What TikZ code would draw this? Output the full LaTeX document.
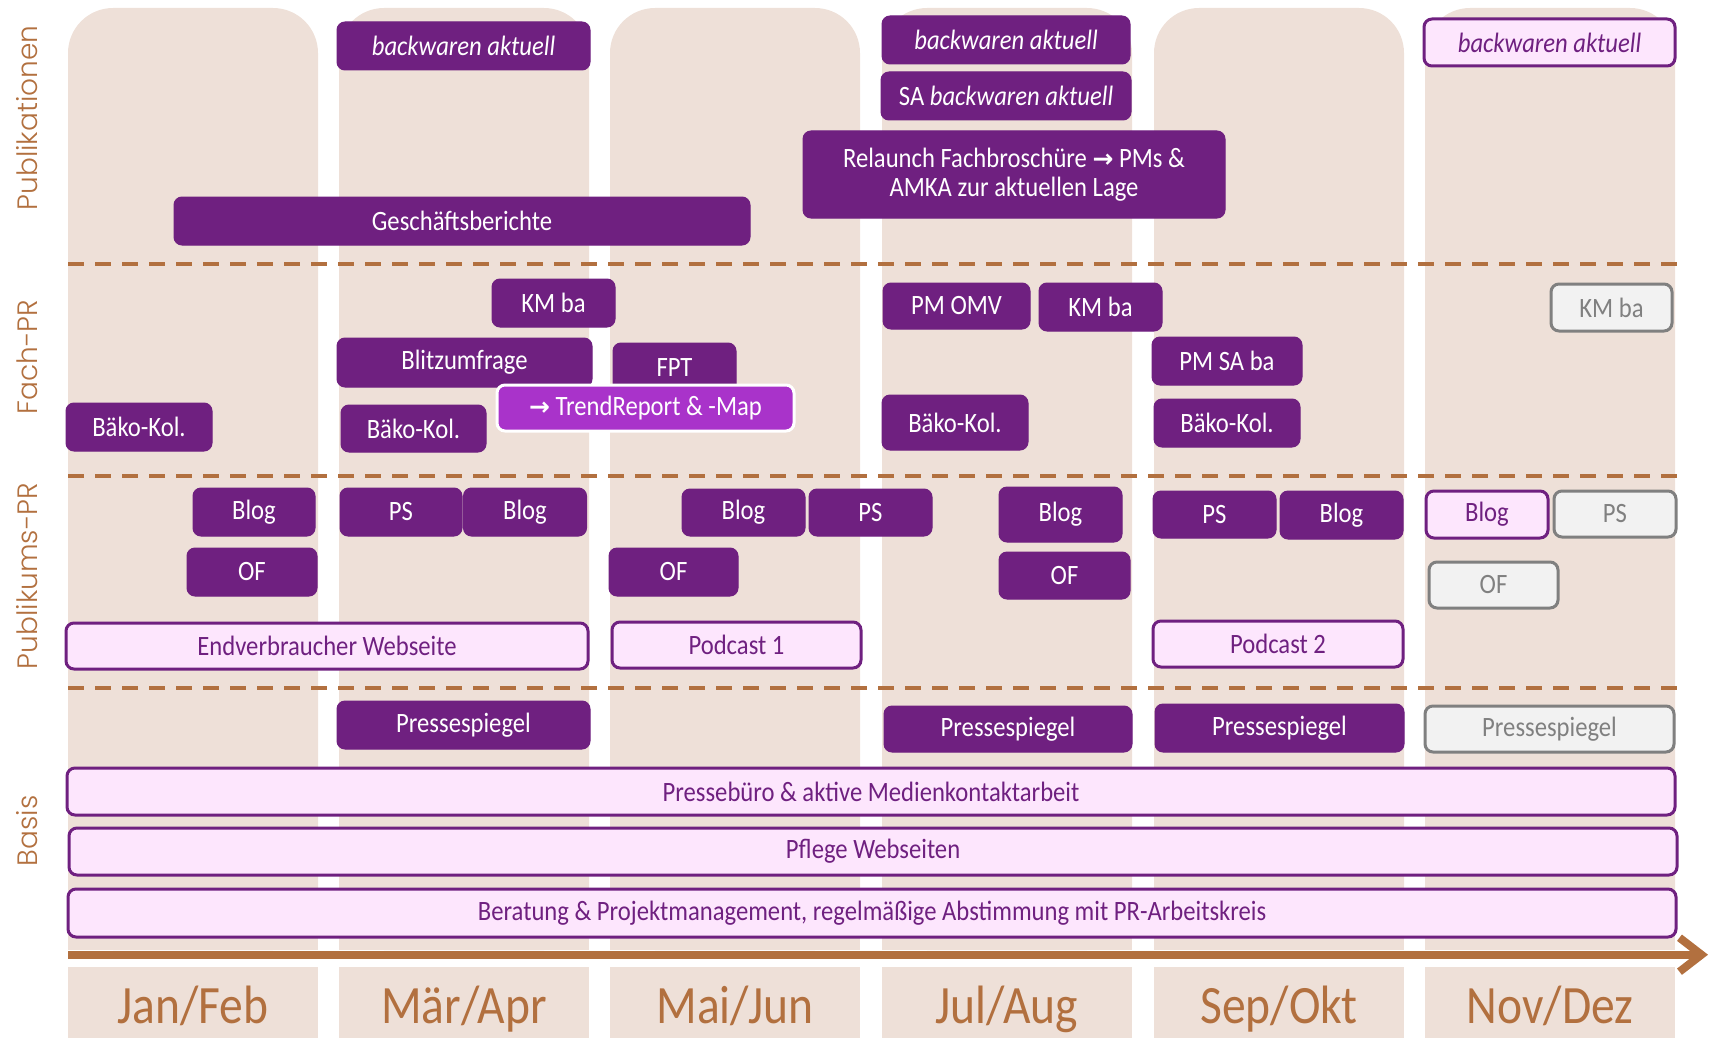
\documentclass[tikz,border=0pt]{standalone}
\usepackage{fontspec}
\setmainfont{Carlito}[FakeStretch=0.88]
\newfontfamily\sidefont{Poppins}[UprightFont=* Light]
\newfontfamily\arrowfont{DejaVu Sans}
\usetikzlibrary{arrows.meta}
\definecolor{colbg}{HTML}{EEE0D8}
\definecolor{plum}{HTML}{6F2080}
\definecolor{lilac}{HTML}{FDE6FD}
\definecolor{trendpurple}{HTML}{A933CA}
\definecolor{greyline}{HTML}{808080}
\definecolor{greyfill}{HTML}{F2F2F2}
\definecolor{rust}{HTML}{B2703F}

\begin{document}
\begin{tikzpicture}[x=1pt, y=-1pt,
  box/.style={rectangle, rounded corners=8pt, inner sep=0pt, outer sep=0pt, align=center, font=\fontsize{28}{29}\selectfont},
  full/.style={box, fill=plum, draw=plum, line width=1pt, text=white},
  soft/.style={box, fill=lilac, draw=plum, line width=3pt, text=plum},
  greybox/.style={box, fill=greyfill, draw=greyline, line width=3pt, text=greyline},
  side/.style={rotate=90, text=rust, font=\sidefont\fontsize{28}{30}\selectfont},
  month/.style={anchor=base, text=rust, font=\fontsize{54}{60}\selectfont},
  divider/.style={rust, line width=4pt, dash pattern=on 16pt off 11pt}
]
\useasboundingbox (0,0) rectangle (1715,1038);

\foreach \x in {68,339,610,882,1154,1425}{
  \fill[colbg, rounded corners=45pt] (\x,8) rectangle ++(250,942);
  \fill[colbg] (\x,80) rectangle ++(250,870);
  \fill[colbg] (\x,967) rectangle ++(250,80);
}

\draw[divider] (68,263.6) -- (1679,263.6);
\draw[divider] (68,475.8) -- (1679,475.8);
\draw[divider] (68,688) -- (1679,688);

\node[side] (pub)   at (27,118) {Publikationen};
\node[side] (fach)  at (27,357) {Fach-PR};
\node[side] (pupr)  at (27,576) {Publikums-PR};
\node[side] (basis) at (27,831) {Basis};

\node[full, minimum width=253pt, minimum height=48pt] (ba2) at (463.5,46) {\itshape backwaren aktuell};
\node[full, minimum width=576pt, minimum height=48pt] (gb) at (462,221) {Geschäftsberichte};
\node[full, minimum width=422pt, minimum height=87pt] (relaunch) at (1014,174.5) {Relaunch Fachbroschüre {\arrowfont\bfseries\fontsize{25}{29}\selectfont →} PMs \&\\AMKA zur aktuellen Lage};
\node[full, minimum width=248pt, minimum height=48pt] (ba4) at (1006,40) {\itshape backwaren aktuell};
\node[full, minimum width=250pt, minimum height=48pt] (saba) at (1006,96) {SA \textit{backwaren aktuell}};
\node[soft, minimum width=251pt, minimum height=47pt] (ba6) at (1549.5,42.5) {\itshape backwaren aktuell};

\node[full, minimum width=123pt, minimum height=48pt] (km2) at (553.5,303) {KM ba};
\node[full, minimum width=255pt, minimum height=49pt] (blitz) at (464.5,362.5) {Blitzumfrage};
\node[full, minimum width=123pt, minimum height=49pt] (fpt) at (674.5,367.5) {FPT};
\node[box, fill=trendpurple, draw=white, line width=3pt, text=white, minimum width=297pt, minimum height=46pt] (trend) at (645.5,408) {{\arrowfont\bfseries\fontsize{25}{29}\selectfont →} TrendReport \& -Map};
\node[full, minimum width=146pt, minimum height=48pt] (bako1) at (139,427) {Bäko-Kol.};
\node[full, minimum width=145pt, minimum height=47pt] (bako2) at (413.5,428.5) {Bäko-Kol.};
\node[full, minimum width=147pt, minimum height=46pt] (pmomv) at (956.5,306) {PM OMV};
\node[full, minimum width=123pt, minimum height=48pt] (km4) at (1100.5,307) {KM ba};
\node[full, minimum width=150pt, minimum height=48pt] (pmsa) at (1227,361) {PM SA ba};
\node[full, minimum width=146pt, minimum height=55pt] (bako4) at (955,422.5) {Bäko-Kol.};
\node[full, minimum width=146pt, minimum height=48pt] (bako5) at (1227,423) {Bäko-Kol.};
\node[greybox, minimum width=121pt, minimum height=47pt] (km6) at (1611.5,307.5) {KM ba};

\node[full, minimum width=122pt, minimum height=48pt] (blog1) at (254,512) {Blog};
\node[full, minimum width=130pt, minimum height=48pt] (of1) at (252,572) {OF};
\node[full, minimum width=122pt, minimum height=48pt] (ps2) at (401,512) {PS};
\node[full, minimum width=123pt, minimum height=48pt] (blog2) at (525,512) {Blog};
\node[full, minimum width=123pt, minimum height=47pt] (blog3) at (743.5,512.5) {Blog};
\node[full, minimum width=123pt, minimum height=47pt] (ps3) at (870.5,512.5) {PS};
\node[full, minimum width=129pt, minimum height=48pt] (of3) at (673.5,572) {OF};
\node[soft, minimum width=522pt, minimum height=46pt] (endv) at (327,646) {Endverbraucher Webseite};
\node[soft, minimum width=249pt, minimum height=46pt] (pod1) at (736.5,645) {Podcast 1};
\node[full, minimum width=123pt, minimum height=55pt] (blog4) at (1060.5,514.5) {Blog};
\node[full, minimum width=131pt, minimum height=47pt] (of4) at (1064.5,575.5) {OF};
\node[full, minimum width=123pt, minimum height=47pt] (ps5) at (1214.5,514.5) {PS};
\node[full, minimum width=123pt, minimum height=48pt] (blog5) at (1341.5,515) {Blog};
\node[soft, minimum width=122pt, minimum height=47pt] (blog6) at (1487,514.5) {Blog};
\node[greybox, minimum width=122pt, minimum height=46pt] (ps6) at (1615,514) {PS};
\node[greybox, minimum width=129pt, minimum height=46pt] (of6) at (1493.5,585) {OF};
\node[soft, minimum width=250pt, minimum height=46pt] (pod2) at (1278,644) {Podcast 2};

\node[full, minimum width=253pt, minimum height=48pt] (psp2) at (463.5,725) {Pressespiegel};
\node[full, minimum width=248pt, minimum height=46pt] (psp4) at (1008,729) {Pressespiegel};
\node[full, minimum width=249pt, minimum height=48pt] (psp5) at (1279.5,728) {Pressespiegel};
\node[greybox, minimum width=249pt, minimum height=46pt] (psp6) at (1549.5,729) {Pressespiegel};
\node[soft, minimum width=1608pt, minimum height=47pt] (presse) at (871,791.5) {Pressebüro \& aktive Medienkontaktarbeit};
\node[soft, minimum width=1608pt, minimum height=47pt] (pflege) at (873,851.5) {Pflege Webseiten};
\node[soft, minimum width=1608pt, minimum height=48pt] (beratung) at (872,913) {Beratung \& Projektmanagement, regelmäßige Abstimmung mit PR-Arbeitskreis};

\coordinate (tstart) at (68,954.7);
\coordinate (tend) at (1708,954.7);
\draw[rust, line width=8pt, -{Straight Barb[length=22pt,width=34pt]}] (tstart) -- (tend);

\node[month] (janfeb) at (193,1023) {Jan/Feb};
\node[month] (maerapr) at (464,1023) {Mär/Apr};
\node[month] (maijun) at (735,1023) {Mai/Jun};
\node[month] (julaug) at (1007,1023) {Jul/Aug};
\node[month] (sepokt) at (1279,1023) {Sep/Okt};
\node[month] (novdez) at (1550,1023) {Nov/Dez};
\end{tikzpicture}
\end{document}
